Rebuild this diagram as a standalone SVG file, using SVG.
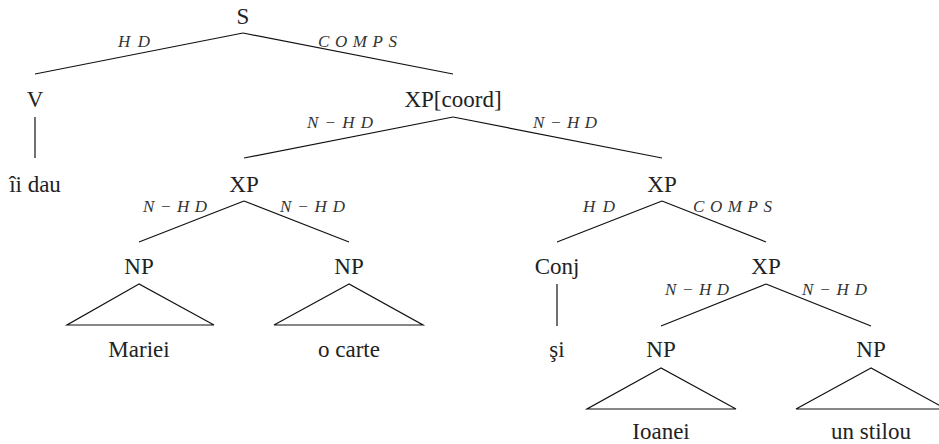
<svg xmlns="http://www.w3.org/2000/svg" width="939" height="444" viewBox="0 0 939 444">
<style>
.t{font-size:23px;fill:#222;text-anchor:middle}
.l{font-size:17px;font-style:italic;fill:#333}
.e{stroke:#111;stroke-width:1.2;fill:none}
</style>
<rect width="939" height="444" fill="#fff"/>
<g id="connectors" class="e">
<line x1="243" y1="33" x2="35" y2="74"/>
<line x1="243" y1="33" x2="453" y2="74"/>
<line x1="35" y1="117" x2="35" y2="158"/>
<line x1="453" y1="117" x2="244" y2="158"/>
<line x1="453" y1="117" x2="662" y2="158"/>
<line x1="244" y1="201" x2="139" y2="242"/>
<line x1="244" y1="201" x2="349" y2="242"/>
<line x1="662" y1="201" x2="557" y2="242"/>
<line x1="662" y1="201" x2="766" y2="242"/>
<line x1="557" y1="284" x2="557" y2="326"/>
<line x1="766" y1="284" x2="661" y2="326"/>
<line x1="766" y1="284" x2="871" y2="326"/>
</g>
<g font-family="Liberation Serif, DejaVu Serif, serif">
<g id="edge-labels">
<text class="l" x="118" y="47" textLength="32" lengthAdjust="spacing">HD</text>
<text class="l" x="318" y="47" textLength="79" lengthAdjust="spacing">COMPS</text>
<text class="l" x="307" y="128" textLength="66" lengthAdjust="spacing">N−HD</text>
<text class="l" x="533" y="128" textLength="64" lengthAdjust="spacing">N−HD</text>
<text class="l" x="143" y="212" textLength="64" lengthAdjust="spacing">N−HD</text>
<text class="l" x="280" y="212" textLength="65" lengthAdjust="spacing">N−HD</text>
<text class="l" x="583" y="212" textLength="32" lengthAdjust="spacing">HD</text>
<text class="l" x="693" y="212" textLength="79" lengthAdjust="spacing">COMPS</text>
<text class="l" x="665" y="295" textLength="64" lengthAdjust="spacing">N−HD</text>
<text class="l" x="802" y="295" textLength="65" lengthAdjust="spacing">N−HD</text>
</g>
<g id="n-S"><text class="t" x="243" y="24">S</text></g>
<g id="n-V"><text class="t" x="35" y="107">V</text></g>
<g id="n-iidau"><text class="t" x="35" y="192">îi dau</text></g>
<g id="n-XPcoord"><text class="t" x="453" y="107">XP[coord]</text></g>
<g id="n-XP1"><text class="t" x="244" y="192">XP</text></g>
<g id="n-XP2"><text class="t" x="662" y="192">XP</text></g>
<g id="n-NP1"><text class="t" x="139" y="274">NP</text><polygon class="e" points="139,284 67,325 214,325"/></g>
<g id="n-Mariei"><text class="t" x="139" y="357">Mariei</text></g>
<g id="n-NP2"><text class="t" x="349" y="274">NP</text><polygon class="e" points="349,284 274,325 423,325"/></g>
<g id="n-ocarte"><text class="t" x="349" y="357">o carte</text></g>
<g id="n-Conj"><text class="t" x="557" y="274">Conj</text></g>
<g id="n-si"><text class="t" x="557" y="357">şi</text></g>
<g id="n-XP3"><text class="t" x="766" y="274">XP</text></g>
<g id="n-NP3"><text class="t" x="661" y="357">NP</text><polygon class="e" points="661,368 587,409 736,409"/></g>
<g id="n-Ioanei"><text class="t" x="661" y="439">Ioanei</text></g>
<g id="n-NP4"><text class="t" x="871" y="357">NP</text><polygon class="e" points="871,368 796,409 946,409"/></g>
<g id="n-unstilou"><text class="t" x="871" y="439">un stilou</text></g>
</g>
</svg>
